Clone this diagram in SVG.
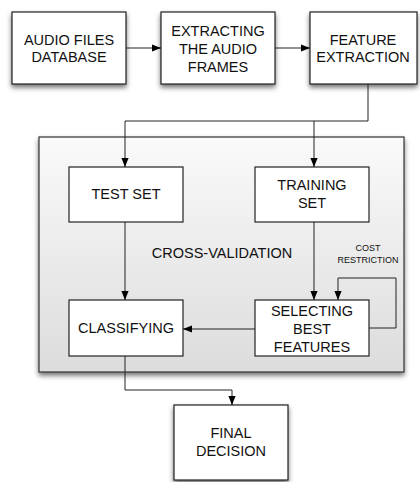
<svg xmlns="http://www.w3.org/2000/svg" width="420" height="482" viewBox="0 0 420 482">
<defs>
<filter id="sh" x="-20%" y="-20%" width="140%" height="150%">
<feDropShadow dx="0" dy="3" stdDeviation="2.5" flood-color="#000" flood-opacity="0.55"/>
</filter>
<linearGradient id="bg" x1="0" y1="0" x2="0" y2="1">
<stop offset="0" stop-color="#fafafa"/>
<stop offset="1" stop-color="#dcdcdc"/>
</linearGradient>
<marker id="ah" viewBox="0 0 10 10" refX="10" refY="5" markerWidth="9" markerHeight="9" markerUnits="userSpaceOnUse" orient="auto">
<path d="M0,1 L10,5 L0,9 z" fill="#000"/>
</marker>
<style>
.box{fill:#fff;stroke:#222;stroke-width:1.2;}
.t{font-family:"Liberation Sans",Arial,sans-serif;font-size:14.5px;fill:#111;text-anchor:middle;}
.s{font-family:"Liberation Sans",Arial,sans-serif;font-size:9px;fill:#111;text-anchor:middle;}
.c{fill:none;stroke:#222;stroke-width:1;}
</style>
</defs>
<rect width="420" height="482" fill="#fff"/>
<g id="container">
<rect x="39" y="137" width="365" height="235" fill="url(#bg)" stroke="#333" stroke-width="1.2" filter="url(#sh)"/>
<text class="t" x="222" y="258">CROSS-VALIDATION</text>
</g>
<g id="n1"><rect class="box" x="12" y="12" width="114" height="72" filter="url(#sh)"/>
<text class="t" x="69" y="45">AUDIO FILES</text><text class="t" x="69" y="62">DATABASE</text></g>
<g id="n2"><rect class="box" x="161" y="12" width="114" height="72" filter="url(#sh)"/>
<text class="t" x="218" y="36">EXTRACTING</text><text class="t" x="218" y="54">THE AUDIO</text><text class="t" x="218" y="72">FRAMES</text></g>
<g id="n3"><rect class="box" x="310" y="12" width="107" height="72" filter="url(#sh)"/>
<text class="t" x="363" y="45">FEATURE</text><text class="t" x="363" y="62">EXTRACTION</text></g>
<g id="n4"><rect class="box" x="69" y="167" width="114" height="55"/>
<text class="t" x="126" y="199">TEST SET</text></g>
<g id="n5"><rect class="box" x="255" y="167" width="114" height="55"/>
<text class="t" x="312" y="190">TRAINING</text><text class="t" x="312" y="208">SET</text></g>
<g id="n6"><rect class="box" x="69" y="300" width="114" height="56"/>
<text class="t" x="126" y="333">CLASSIFYING</text></g>
<g id="n7"><rect class="box" x="255" y="300" width="114" height="56"/>
<text class="t" x="312" y="316">SELECTING</text><text class="t" x="312" y="334">BEST</text><text class="t" x="312" y="352">FEATURES</text></g>
<g id="n8"><rect class="box" x="174" y="405" width="114" height="75" filter="url(#sh)"/>
<text class="t" x="231" y="438">FINAL</text><text class="t" x="231" y="456">DECISION</text></g>
<g id="connectors">
<path class="c" d="M126,48 H161" marker-end="url(#ah)"/>
<path class="c" d="M275,48 H310" marker-end="url(#ah)"/>
<path class="c" d="M368,84 V121 H125 V167" marker-end="url(#ah)"/>
<path class="c" d="M314,121 V167" marker-end="url(#ah)"/>
<path class="c" d="M125,222 V300" marker-end="url(#ah)"/>
<path class="c" d="M314,222 V300" marker-end="url(#ah)"/>
<path class="c" d="M369,328 H396 V278 H338 V300" marker-end="url(#ah)"/>
<path class="c" d="M255,329 H183" marker-end="url(#ah)"/>
<path class="c" d="M125,356 V390 H232 V405" marker-end="url(#ah)"/>
<text class="s" x="368" y="251">COST</text>
<text class="s" x="368" y="263">RESTRICTION</text>
</g>
</svg>
